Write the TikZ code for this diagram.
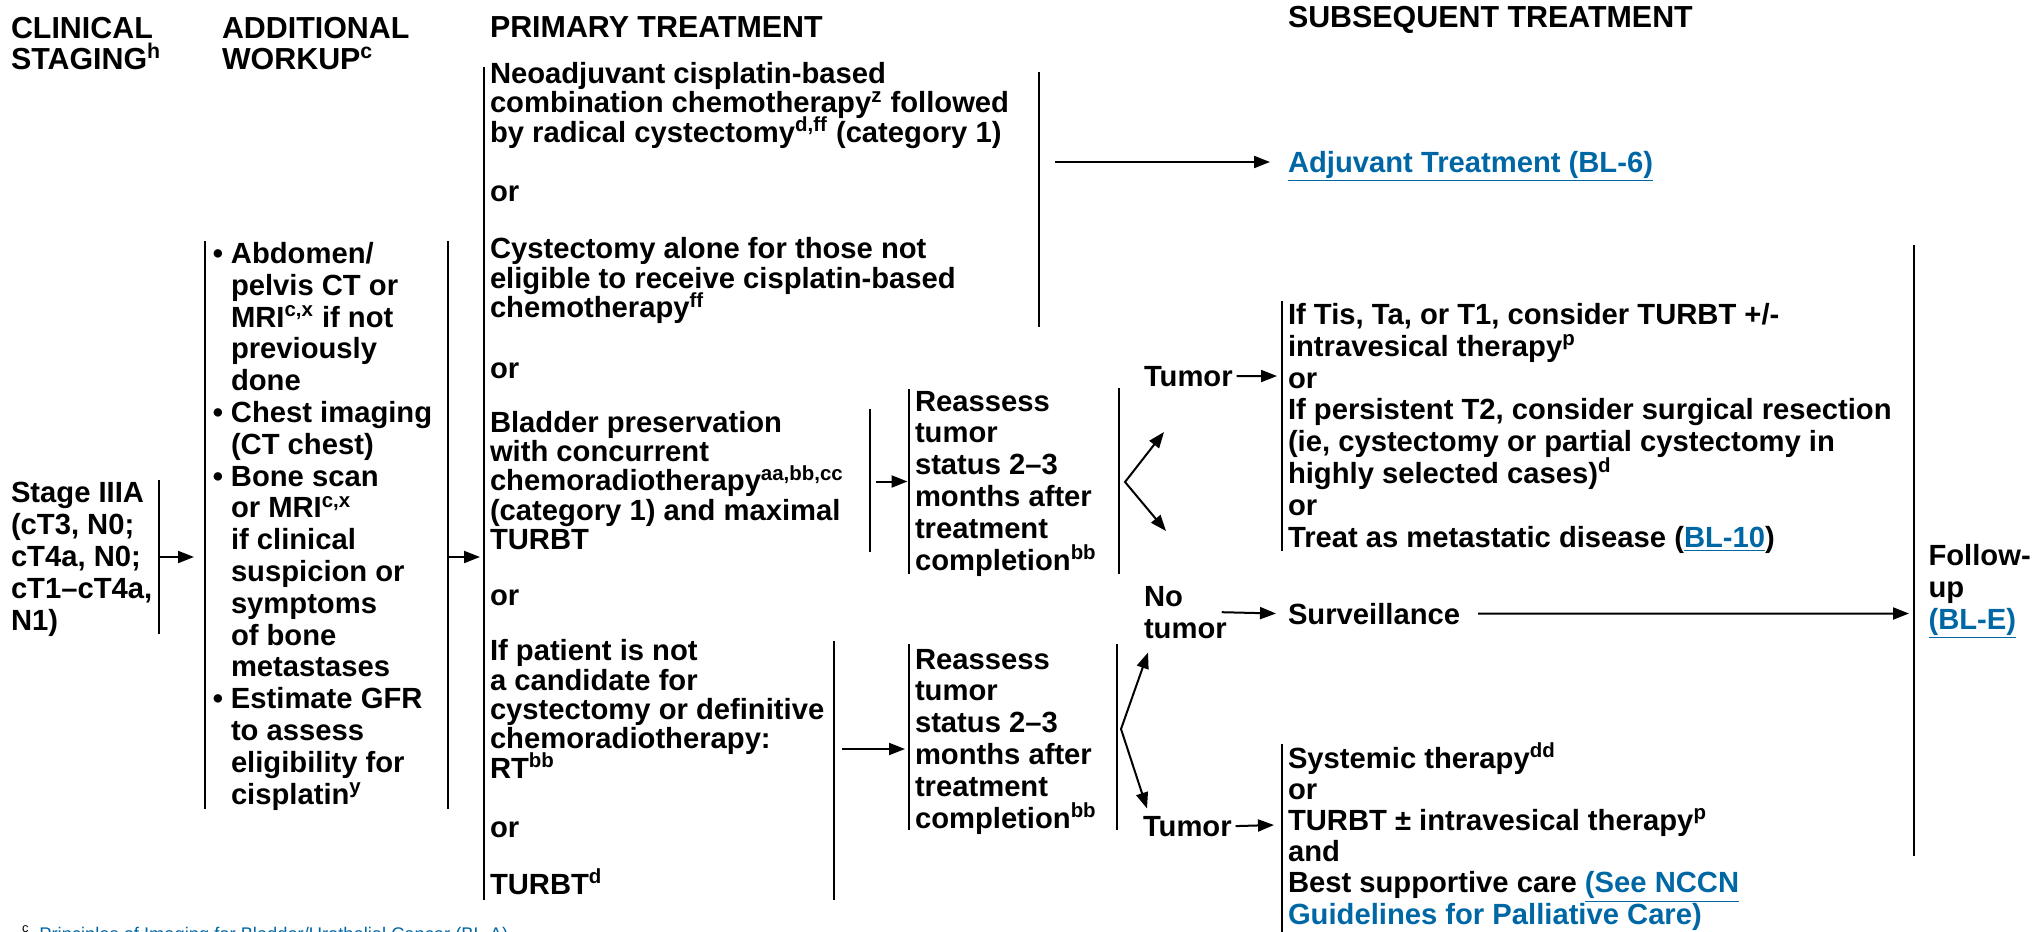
\documentclass[tikz,border=0pt]{standalone}
\usepackage{fontspec}
\setmainfont{Liberation Sans}
\usetikzlibrary{arrows.meta}
\definecolor{linkblue}{RGB}{0,103,165}
\newcommand{\fn}[1]{\textsuperscript{#1}}
\newcommand{\lnk}[1]{\textcolor{linkblue}{\underline{#1}}}
\newcommand{\bodyfont}{\fontsize{14.6}{15.9}\selectfont\bfseries\lineskiplimit=-50pt}
\newcommand{\primfont}{\fontsize{14.6}{14.65}\selectfont\bfseries\lineskiplimit=-50pt}
\newcommand{\lowfont}{\fontsize{14.6}{15.6}\selectfont\bfseries\lineskiplimit=-50pt}
\newcommand{\headfont}{\fontsize{15.2}{15.5}\selectfont\bfseries\lineskiplimit=-50pt}
\begin{document}
\begin{tikzpicture}[x=0.5pt,y=-0.5pt,
    every node/.style={inner sep=0pt,outer sep=0pt,anchor=base west,align=left,font=\bodyfont},
    colhead/.style={font=\headfont},
    prim/.style={font=\primfont},
    vbar/.style={line width=1pt},
    arr/.style={line width=1pt,-{Triangle[length=8pt,width=6pt]}},
    fork/.style={line width=1pt,{Triangle[length=8pt,width=6pt]}-{Triangle[length=8pt,width=6pt]}}]
    \useasboundingbox (0,0) rectangle (2043,931);
    \clip (0,0) rectangle (2043,931);
    \node[colhead] (hClin) at (11,69) {CLINICAL\\STAGING\fn{h}};
    \node[colhead] (hWork) at (222,69) {ADDITIONAL\\WORKUP\fn{c}};
    \node[colhead] (hPrim) at (490,38) {PRIMARY TREATMENT};
    \node[colhead] (hSubs) at (1288,28) {SUBSEQUENT TREATMENT};
    \node (stage) at (11,630) {Stage IIIA\\(cT3, N0;\\cT4a, N0;\\cT1–cT4a,\\N1)};
    \node (work) at (231,804) {\llap{•\hspace{4pt}}Abdomen/\\pelvis CT or\\MRI\fn{c,x} if not\\previously\\done\\
        \llap{•\hspace{4pt}}Chest imaging\\(CT chest)\\\llap{•\hspace{4pt}}Bone scan\\or MRI\fn{c,x}\\if clinical\\suspicion or\\symptoms\\of bone\\metastases\\
        \llap{•\hspace{4pt}}Estimate GFR\\to assess\\eligibility for\\cisplatin\fn{y}};
    \node[prim] (pNeo) at (490,142) {Neoadjuvant cisplatin-based\\combination chemotherapy\fn{z} followed\\by radical cystectomy\fn{d,ff} (category 1)};
    \node[prim] (pCys) at (490,317.5) {Cystectomy alone for those not\\eligible to receive cisplatin-based\\chemotherapy\fn{ff}};
    \node[prim] (pBlad) at (490,549.5) {Bladder preservation\\with concurrent\\chemoradiotherapy\fn{aa,bb,cc}\\(category 1) and maximal\\TURBT};
    \node[prim] (pPat) at (490,778) {If patient is not\\a candidate for\\cystectomy or definitive\\chemoradiotherapy:\\RT\fn{bb}};
    \node[prim] (pTurb) at (490,894) {TURBT\fn{d}};
    \foreach \y/\n in {201/1,378/2,605.5/3,837/4}
    \node[prim] (pOr\n) at (490,\y) {or};
    \node (adj) at (1288,172) {\lnk{Adjuvant Treatment (BL-6)}};
    \node (re1) at (915,570) {Reassess\\tumor\\status 2–3\\months after\\treatment\\completion\fn{bb}};
    \node (re2) at (915,828) {Reassess\\tumor\\status 2–3\\months after\\treatment\\completion\fn{bb}};
    \node (tum1) at (1144,386) {Tumor};
    \node (ntum) at (1144,638) {No\\tumor};
    \node (tum2) at (1143,836) {Tumor};
    \node (sub1) at (1288,547) {If Tis, Ta, or T1, consider TURBT +/-\\intravesical therapy\fn{p}\\or\\If persistent T2, consider surgical resection\\(ie, cystectomy or partial cystectomy in\\highly selected cases)\fn{d}\\or\\Treat as metastatic disease (\lnk{BL-10})};
    \node (surv) at (1288,624) {Surveillance};
    \node[font=\lowfont] (sub2) at (1288,924) {Systemic therapy\fn{dd}\\or\\TURBT ± intravesical therapy\fn{p}\\and\\Best supportive care \lnk{(See NCCN}\\\lnk{Guidelines for Palliative Care)}};
    \node (fup) at (1928.5,629) {Follow-\\up\\\lnk{(BL-E)}};
    \node[font=\fontsize{9.15}{11}\selectfont] (fnote) at (22,940) {\fn{c}\hspace{5pt}\textcolor{linkblue}{Principles of Imaging for Bladder/Urothelial Cancer (BL-A)}};
    \foreach \x/\a/\b in {159/480/634, 205/241/809, 448/241/809, 484/67/900, 1039/72/327,
        870/409/552, 834/641/900, 909/389/574, 1119/388/574, 909/644/830, 1117/644/830,
        1282/301/551, 1282/744/935, 1913.5/245/856}
    \draw[vbar] (\x,\a) -- (\x,\b);
    \coordinate (stOut) at (159,557);
    \coordinate (wkIn) at (194,557);
    \coordinate (wkOut) at (448,557);
    \coordinate (prIn) at (480,557);
    \coordinate (neoOut) at (1055,162);
    \coordinate (adjIn) at (1270,162);
    \coordinate (bladOut) at (876,481.5);
    \coordinate (re1In) at (907.5,481.5);
    \coordinate (patOut) at (842,749);
    \coordinate (re2In) at (905,749);
    \coordinate (f1) at (1125,482);
    \coordinate (f1u) at (1164,432);
    \coordinate (f1d) at (1166,531);
    \coordinate (f2) at (1121,729);
    \coordinate (f2u) at (1148,652.5);
    \coordinate (f2d) at (1147,808.5);
    \coordinate (sub1In) at (1277,376);
    \coordinate (survIn) at (1276,613.5);
    \coordinate (sub2In) at (1274,825);
    \coordinate (fupIn) at (1909,613.5);
    \draw[arr] (stOut) -- (wkIn);
    \draw[arr] (wkOut) -- (prIn);
    \draw[arr] (neoOut) -- (adjIn);
    \draw[arr] (bladOut) -- (re1In);
    \draw[arr] (patOut) -- (re2In);
    \draw[fork] (f1u) -- (f1) -- (f1d);
    \draw[fork] (f2u) -- (f2) -- (f2d);
    \draw[arr] ([xshift=2pt]tum1.east) -- (sub1In);
    \draw[arr] ([xshift=-2.5pt]ntum.east) -- (survIn);
    \draw[arr] ([xshift=2pt]tum2.east) -- (sub2In);
    \draw[arr] ([xshift=9pt]surv.east) -- (fupIn);
\end{tikzpicture}
\end{document}
